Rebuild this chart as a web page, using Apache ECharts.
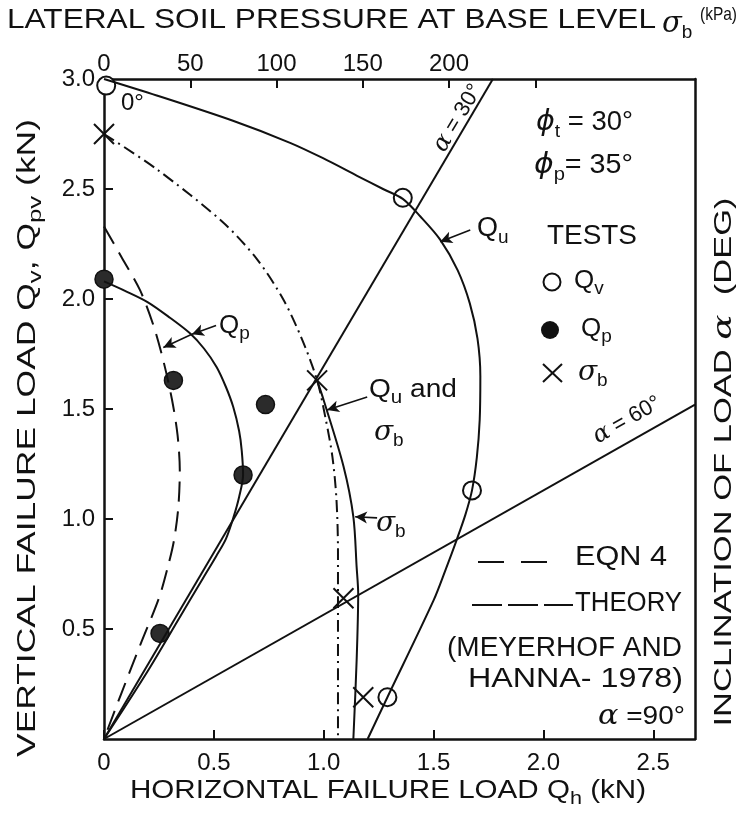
<!DOCTYPE html>
<html><head><meta charset="utf-8">
<script src="https://cdn.jsdelivr.net/npm/echarts@6/dist/echarts.min.js"></script>
<style>html,body{margin:0;padding:0;background:#fff}#c{width:739px;height:821px}</style>
</head><body><div id="c"></div>
<script>
// ---- data ----
const xTicks = [0, 0.5, 1.0, 1.5, 2.0, 2.5];
const yTicks = [0.5, 1.0, 1.5, 2.0, 2.5, 3.0];
const sigmaTicks = [0, 50, 100, 150, 200, 250];
const sigmaLabels = [0, 50, 100, 150, 200];

const alpha30Line = [[0, 0], [1.77, 3.0]];
const alpha60Line = [[0, 0], [2.69, 1.52]];

const quCurve = [[0, 3.0], [0.24, 2.925], [0.587, 2.81], [0.847, 2.71], [0.997, 2.64], [1.152, 2.56], [1.27, 2.5], [1.36, 2.455], [1.44, 2.375], [1.53, 2.27], [1.61, 2.13], [1.665, 1.98], [1.70, 1.82], [1.713, 1.65], [1.71, 1.45], [1.697, 1.28], [1.675, 1.13], [1.645, 1.02], [1.607, 0.91], [1.555, 0.77], [1.50, 0.63], [1.29, 0.19], [1.20, 0]];
const qpCurve = [[0, 2.08], [0.1, 2.035], [0.2, 1.985], [0.3, 1.915], [0.39, 1.845], [0.455, 1.775], [0.513, 1.69], [0.555, 1.60], [0.588, 1.51], [0.615, 1.40], [0.627, 1.31], [0.633, 1.20], [0.615, 1.10], [0.59, 1.01], [0.555, 0.91], [0.51, 0.83], [0.45, 0.73], [0.39, 0.63], [0.2, 0.31], [0, 0]];
const eqn4Curve = [[0, 2.33], [0.08, 2.19], [0.164, 2.04], [0.225, 1.88], [0.27, 1.72], [0.31, 1.54], [0.335, 1.38], [0.345, 1.22], [0.338, 1.05], [0.318, 0.90], [0.29, 0.78], [0.25, 0.64], [0.17, 0.44], [0.08, 0.21], [0, 0]];
const theoryCurve = [[0, 2.75], [0.24, 2.59], [0.54, 2.35], [0.697, 2.18], [0.815, 2.0], [0.90, 1.82], [0.97, 1.63], [1.01, 1.45], [1.04, 1.28], [1.058, 1.09], [1.065, 0.85], [1.065, 0.63], [1.065, 0]];
const sigmaCurve = [[0.97, 1.63], [1.0, 1.54], [1.09, 1.24], [1.135, 1.01], [1.15, 0.78], [1.157, 0.66], [1.15, 0.36], [1.135, 0]];

const qvTests = [[0.01, 2.97], [1.36, 2.46], [1.675, 1.13], [1.29, 0.19]];
const qpTests = [[0, 2.09], [0.316, 1.63], [0.735, 1.52], [0.633, 1.20], [0.255, 0.48]];
const sigmaTests = [[0, 2.75], [0.97, 1.63], [1.09, 0.64], [1.18, 0.19]];

const arrows = [
  [[1.667, 2.314], [1.53, 2.26]],
  [[0.51, 1.88], [0.40, 1.84]],
  [[0.40, 1.84], [0.27, 1.78]],
  [[1.198, 1.555], [1.015, 1.495]],
  [[1.243, 1.005], [1.143, 1.01]]
];

// ---- chart ----
const FONT = 'Liberation Sans';
const INK = '#111';
const chart = echarts.init(document.getElementById('c'));
const mctx = document.createElement('canvas').getContext('2d');

function curve(data, type, smooth) {
  return { type: 'line', data, smooth: smooth, symbol: 'none', silent: true,
    lineStyle: { color: INK, width: 2, type: type } };
}
function rich(sz) {
  const lh = Math.round(sz * 1.35);
  return {
    m: { fontSize: sz, fontFamily: FONT, fill: INK, color: INK, lineHeight: lh, verticalAlign: 'middle' },
    g: { fontSize: sz + 2, fontFamily: 'DejaVu Serif', fontStyle: 'italic', fill: INK, color: INK, lineHeight: lh, verticalAlign: 'middle' },
    f: { fontSize: sz + 1, fontFamily: 'DejaVu Sans', fontStyle: 'italic', fill: INK, color: INK, lineHeight: lh, verticalAlign: 'middle' },
    s: { fontSize: Math.round(sz * 0.72), fontFamily: FONT, fill: INK, color: INK, lineHeight: Math.round(sz * 0.72), verticalAlign: 'bottom' },
    p: { fontSize: Math.round(sz * 0.65), fontFamily: FONT, fill: INK, color: INK, lineHeight: Math.round(sz * 0.65), verticalAlign: 'top' }
  };
}
function build(frags) { return frags.map(f => '{' + f[1] + '|' + f[0] + '}').join(''); }
function measure(frags, sz) {
  const r = rich(sz); let w = 0;
  frags.forEach(([t, k]) => {
    const st = r[k];
    mctx.font = (st.fontStyle || 'normal') + ' normal ' + st.fontSize + 'px "' + st.fontFamily + '"';
    w += mctx.measureText(t).width;
  });
  return w;
}
// horizontal text, left edge x0, optional right edge x1 (stretch to fit)
function TH(frags, sz, x0, yc, x1) {
  const sx = x1 ? (x1 - x0) / measure(frags, sz) : 1;
  return { type: 'text', x: x0, y: yc, scaleX: sx, silent: true,
    style: { text: build(frags), rich: rich(sz), fontSize: sz, fontFamily: FONT, fill: INK, align: 'left', verticalAlign: 'middle' } };
}
// rotated text centred at (xc,yc), stretched to length len (or natural)
function TR(frags, sz, xc, yc, rot, len) {
  const sx = len ? len / measure(frags, sz) : 1;
  return { type: 'text', x: xc, y: yc, rotation: rot, scaleX: sx, silent: true,
    style: { text: build(frags), rich: rich(sz), fontSize: sz, fontFamily: FONT, fill: INK, align: 'center', verticalAlign: 'middle' } };
}

const axisLineStyle = { color: INK, width: 2.5 };
const tickStyle = { color: INK, width: 2 };
const labelBase = { color: INK, fontSize: 24, fontFamily: FONT };

const option = {
  animation: false,
  backgroundColor: '#fff',
  grid: { left: 104, right: 44, top: 79, bottom: 82 },
  xAxis: [
    { type: 'value', min: 0, max: 2.69, position: 'bottom',
      axisLine: { show: true, onZero: false, lineStyle: axisLineStyle },
      axisTick: { show: true, inside: true, length: 9, customValues: xTicks, lineStyle: tickStyle },
      axisLabel: Object.assign({ customValues: xTicks, margin: 12, formatter: v => v === 0 ? '0' : v.toFixed(1) }, labelBase),
      splitLine: { show: false } },
    { type: 'value', min: 0, max: 342.6, position: 'top',
      axisLine: { show: true, onZero: false, lineStyle: axisLineStyle },
      axisTick: { show: true, inside: true, length: 9, customValues: sigmaTicks, lineStyle: tickStyle },
      axisLabel: Object.assign({ customValues: sigmaLabels, margin: 3 }, labelBase),
      splitLine: { show: false } }
  ],
  yAxis: [
    { type: 'value', min: 0, max: 3.0, position: 'left',
      axisLine: { show: true, onZero: false, lineStyle: axisLineStyle },
      axisTick: { show: true, inside: true, length: 9, customValues: yTicks.slice(0, 5), lineStyle: tickStyle },
      axisLabel: Object.assign({ customValues: yTicks, margin: 9, formatter: v => v.toFixed(1) }, labelBase),
      splitLine: { show: false } },
    { type: 'value', min: 0, max: 3.0, position: 'right',
      axisLine: { show: true, onZero: false, lineStyle: axisLineStyle },
      axisTick: { show: false }, axisLabel: { show: false }, splitLine: { show: false } }
  ],
  series: [
    curve(alpha30Line, 'solid', false),
    curve(alpha60Line, 'solid', false),
    curve(quCurve, 'solid', 0.3),
    curve(qpCurve, 'solid', 0.3),
    curve(eqn4Curve, [20, 10], 0.3),
    curve(theoryCurve, [12, 5, 2, 5], 0.3),
    curve(sigmaCurve, 'solid', 0.3),
    { type: 'scatter', data: qvTests, symbol: 'circle', symbolSize: 18, silent: true,
      itemStyle: { color: '#fff', borderColor: INK, borderWidth: 2, opacity: 1 } },
    { type: 'scatter', data: qpTests, symbol: 'circle', symbolSize: 18, silent: true,
      itemStyle: { color: '#2b2b2b', borderColor: INK, borderWidth: 1.5, opacity: 1 } },
    { type: 'scatter', data: sigmaTests, symbol: 'path://M0,0L10,10M10,0L0,10', symbolSize: 20, silent: true,
      itemStyle: { color: 'none', borderColor: INK, borderWidth: 2, opacity: 1 } },
    { type: 'line', data: [], silent: true,
      markLine: { silent: true, symbol: ['none', 'arrow'], symbolSize: [9, 12], animation: false,
        lineStyle: { color: INK, width: 1.6, type: 'solid' }, label: { show: false },
        data: arrows.map(a => [{ coord: a[0] }, { coord: a[1] }]) } }
  ],
  graphic: [
    // axis titles
    TH([['LATERAL SOIL PRESSURE AT BASE LEVEL', 'm']], 27, 7, 21, 656),
    TH([['σ', 'g'], ['b', 's']], 27, 662, 24),
    TH([['(kPa)', 'm']], 19, 700, 15, 737),
    TH([['HORIZONTAL FAILURE LOAD Q', 'm'], ['h', 's'], [' (kN)', 'm']], 26, 130, 791, 646),
    TR([['VERTICAL FAILURE LOAD Q', 'm'], ['v', 's'], [', Q', 'm'], ['pv', 's'], [' (kN)', 'm']], 26, 28, 438, Math.PI / 2, 638),
    TR([['INCLINATION OF LOAD ', 'm'], ['α', 'g'], ['  (DEG)', 'm']], 24, 724, 462, Math.PI / 2, 529),
    // annotations
    TH([['0°', 'm']], 24, 121, 103),
    TR([['α', 'g'], [' = 30°', 'm']], 22, 458, 118, 59 * Math.PI / 180),
    TH([['ϕ', 'f'], ['t', 's'], [' = 30°', 'm']], 27, 536, 123, 633),
    TH([['ϕ', 'f'], ['p', 's'], ['= 35°', 'm']], 27, 534, 166, 633),
    TH([['Q', 'm'], ['u', 's']], 27, 477, 229),
    TH([['TESTS', 'm']], 27, 547, 237, 637),
    TH([['Q', 'm'], ['v', 's']], 26, 574, 281),
    TH([['Q', 'm'], ['p', 's']], 26, 581, 329),
    TH([['σ', 'g'], ['b', 's']], 26, 578, 373),
    TR([['α', 'g'], [' = 60°', 'm']], 22, 627, 420, 29.5 * Math.PI / 180),
    TH([['Q', 'm'], ['p', 's']], 26, 219, 326),
    TH([['Q', 'm'], ['u', 's'], [' and', 'm']], 26, 369, 390, 457),
    TH([['σ', 'g'], ['b', 's']], 26, 374, 433),
    TH([['σ', 'g'], ['b', 's']], 26, 376, 524),
    TH([['EQN 4', 'm']], 27, 575, 558, 667),
    TH([['THEORY', 'm']], 27, 575, 604, 682),
    TH([['(MEYERHOF AND', 'm']], 27, 447, 649, 682),
    TH([['HANNA- 1978)', 'm']], 27, 468, 680, 683),
    TH([['α', 'g'], [' =90°', 'm']], 25, 598, 717, 685),
    // legend glyphs
    { type: 'line', silent: true, shape: { x1: 478, y1: 562, x2: 548, y2: 562 }, style: { stroke: INK, lineWidth: 2, lineDash: [26, 17] } },
    { type: 'line', silent: true, shape: { x1: 472, y1: 605, x2: 573, y2: 605 }, style: { stroke: INK, lineWidth: 2, lineDash: [30, 6] } },
    { type: 'circle', silent: true, shape: { cx: 552, cy: 282, r: 8.5 }, style: { fill: '#fff', stroke: INK, lineWidth: 2 } },
    { type: 'circle', silent: true, shape: { cx: 550, cy: 330, r: 9 }, style: { fill: INK } },
    { type: 'polyline', silent: true, shape: { points: [[543, 364], [562, 382]] }, style: { stroke: INK, lineWidth: 2, fill: null } },
    { type: 'polyline', silent: true, shape: { points: [[562, 364], [543, 382]] }, style: { stroke: INK, lineWidth: 2, fill: null } }
  ]
};
chart.setOption(option);
</script>
</body></html>
